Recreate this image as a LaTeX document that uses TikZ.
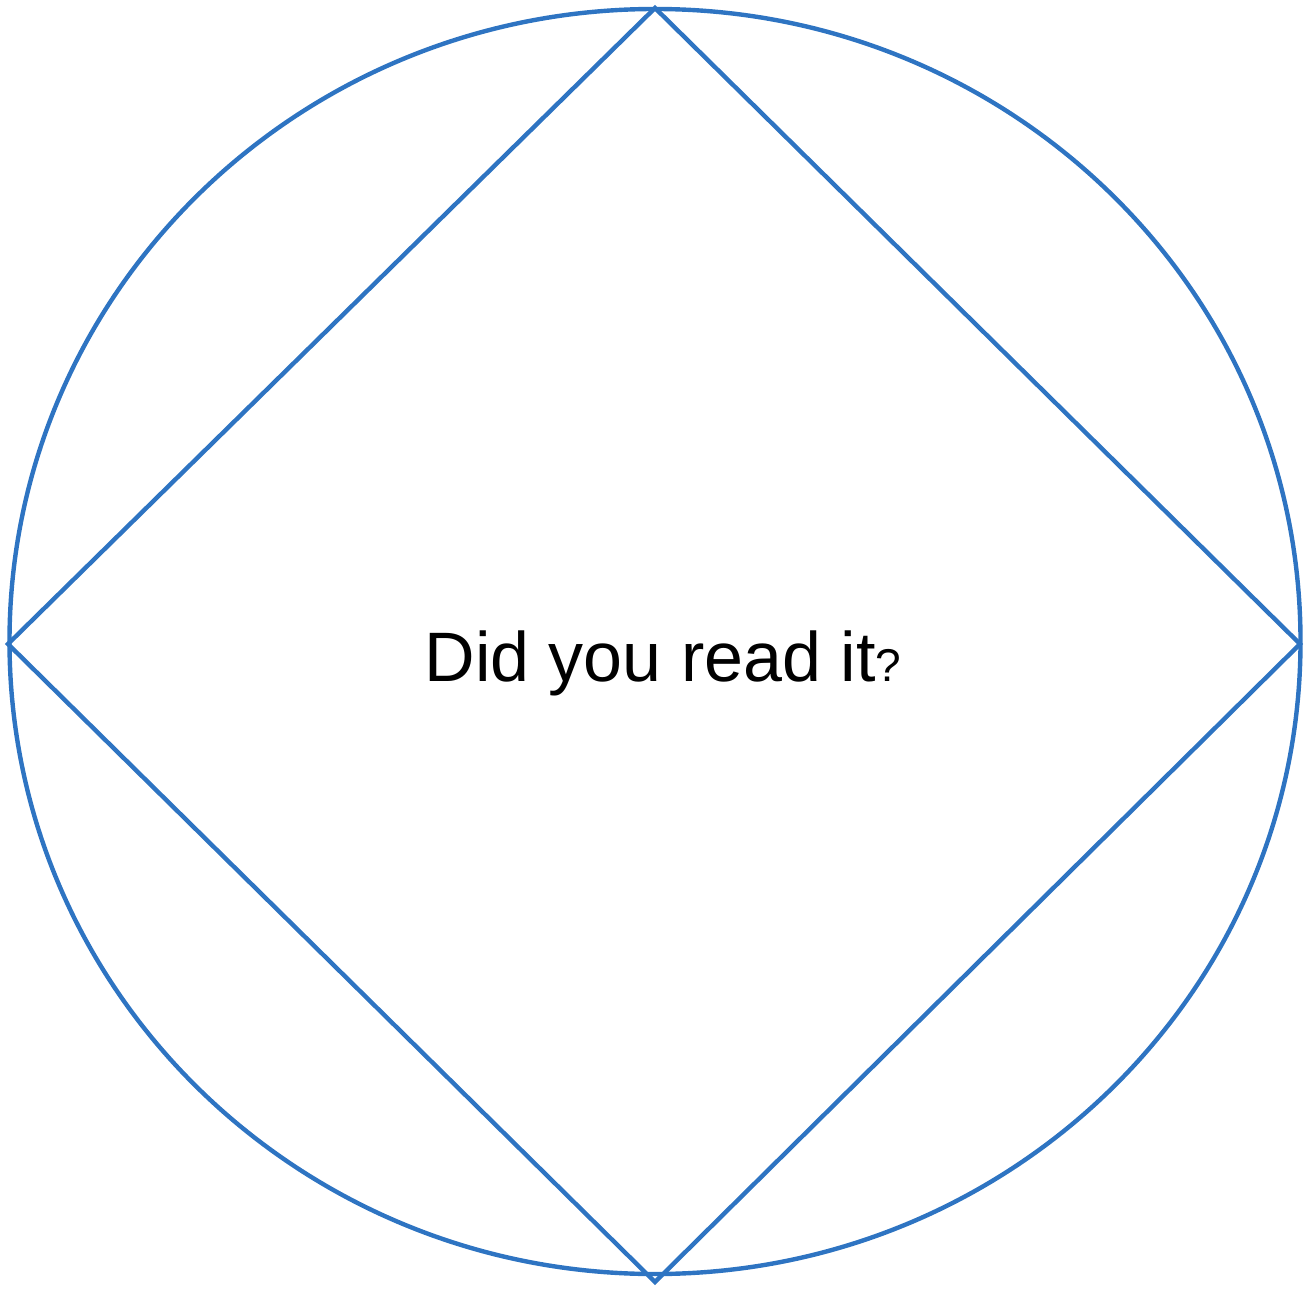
\documentclass[tikz,border=0pt]{standalone}
\usepackage{fontspec}
\setmainfont{Liberation Sans}
\usepackage{xcolor}
\definecolor{shapeblue}{RGB}{46,116,194}

\begin{document}
\begin{tikzpicture}[
    x=0.5pt, y=-0.5pt,
    outline/.style={draw=shapeblue, line width=2.2pt, line join=miter},
    label/.style={font=\fontsize{35}{42}\selectfont, text=black, inner sep=0pt}
]
\useasboundingbox (0,0) rectangle (1304,1288);

% outer circle
\draw [outline] (655,641.5) ellipse [x radius=645.5, y radius=632.5];

% diamond corners
\coordinate (top) at (655,8);
\coordinate (left) at (8,644);
\coordinate (right) at (1300,644);
\coordinate (bottom) at (655,1282);
\draw [outline] (top) -- (right) -- (bottom) -- (left) -- cycle;

\node [label, anchor=base] (question) at (663,681) {Did you read it{\fontsize{23}{28}\selectfont ?}};
\end{tikzpicture}
\end{document}
